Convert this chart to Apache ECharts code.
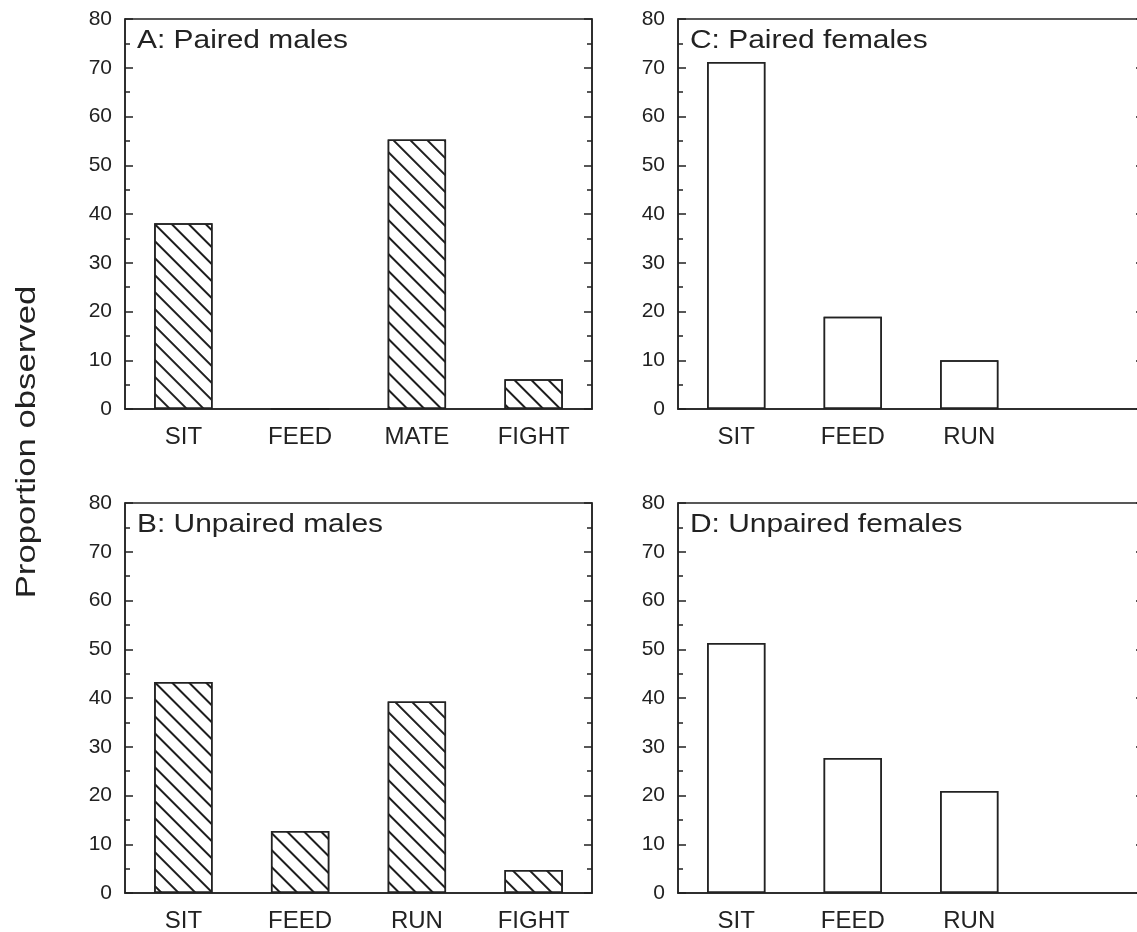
<!DOCTYPE html>
<html>
<head>
<meta charset="utf-8">
<script src="https://cdn.jsdelivr.net/npm/echarts@6/dist/echarts.min.js"></script>
<style>
  html, body { margin: 0; padding: 0; background: #fff; }
  #chart { width: 1137px; height: 932px; }
</style>
</head>
<body>
<div id="chart"></div>
<script>
// Behaviour categories per panel
const maleCatsPaired = ['SIT', 'FEED', 'MATE', 'FIGHT'];
const maleCatsUnpaired = ['SIT', 'FEED', 'RUN', 'FIGHT'];
const femaleCats = ['SIT', 'FEED', 'RUN', ''];

// Proportion observed (%)
const pairedMales = [38.1, 0, 55.3, 6.1];
const unpairedMales = [43.3, 12.7, 39.3, 4.7];
const pairedFemales = [71.2, 18.9, 10.0];
const unpairedFemales = [51.3, 27.7, 20.9];

const panelTitles = ['A: Paired males', 'B: Unpaired males', 'C: Paired females', 'D: Unpaired females'];
const yTicks = { min: 0, max: 80, interval: 10 };
const yTitle = 'Proportion observed';

const FONT = '"Liberation Sans", Arial, Helvetica, sans-serif';
const INK = '#222222';

// back-slash hatching for the male panels
const hatch = {
  symbol: 'rect', symbolSize: 1, color: '#1e1e1e',
  dashArrayX: [[1, 0]], dashArrayY: [2, 9.5],
  rotation: Math.PI / 4
};
const noHatch = { symbol: 'rect', color: 'rgba(0,0,0,0)' };

const panels = [
  { cats: maleCatsPaired, data: pairedMales, hatched: true, left: 125, top: 19, width: 467 },
  { cats: maleCatsUnpaired, data: unpairedMales, hatched: true, left: 125, top: 503, width: 467 },
  { cats: femaleCats, data: pairedFemales, hatched: false, left: 678, top: 19, width: 466 },
  { cats: femaleCats, data: unpairedFemales, hatched: false, left: 678, top: 503, width: 466 }
];

const grid = [], xAxis = [], yAxis = [], series = [], graphic = [];

panels.forEach((p, i) => {
  grid.push({
    left: p.left, top: p.top, width: p.width, height: 390,
    outerBoundsMode: 'none', containLabel: false,
    show: true, borderColor: INK, borderWidth: 1.5, backgroundColor: 'transparent'
  });
  xAxis.push({
    type: 'category', gridIndex: i, data: p.cats,
    axisLine: { show: true, lineStyle: { color: INK, width: 1.5 } },
    axisTick: { show: false },
    axisLabel: { color: INK, fontSize: 24, fontFamily: FONT, margin: 16 },
    splitLine: { show: false }
  });
  const yBase = {
    type: 'value', gridIndex: i, min: yTicks.min, max: yTicks.max, interval: yTicks.interval,
    axisLine: { show: true, lineStyle: { color: INK, width: 1.5 } },
    axisTick: { show: true, inside: true, length: 8, lineStyle: { color: INK, width: 1.5 } },
    minorTick: { show: true, splitNumber: 2, length: 5, lineStyle: { color: INK, width: 1.5 } },
    splitLine: { show: false }
  };
  yAxis.push(Object.assign({}, yBase, {
    position: 'left',
    axisLabel: { color: INK, fontSize: 21, fontFamily: FONT, margin: 13 }
  }));
  yAxis.push(Object.assign({}, yBase, {
    position: 'right',
    axisLabel: { show: false }
  }));
  series.push({
    type: 'bar', xAxisIndex: i, yAxisIndex: i * 2, data: p.data,
    barWidth: '50%', silent: true,
    itemStyle: {
      color: '#ffffff', borderColor: INK, borderWidth: 1.5,
      decal: p.hatched ? hatch : noHatch
    }
  });
  graphic.push({
    type: 'text',
    x: p.left + 12, y: p.top + 9, scaleX: 1.15,
    style: { text: panelTitles[i], fill: INK, font: '26px ' + FONT, textVerticalAlign: 'top' }
  });
});

graphic.push({
  type: 'text',
  x: 27, y: 442, rotation: Math.PI / 2, scaleX: 1.24,
  style: { text: yTitle, fill: INK, font: '28px ' + FONT, textAlign: 'center', textVerticalAlign: 'middle' }
});

const chart = echarts.init(document.getElementById('chart'), null, { renderer: 'canvas' });
chart.setOption({
  animation: false,
  backgroundColor: '#ffffff',
  aria: { enabled: true, decal: { show: true } },
  grid, xAxis, yAxis, series, graphic
});
</script>
</body>
</html>
